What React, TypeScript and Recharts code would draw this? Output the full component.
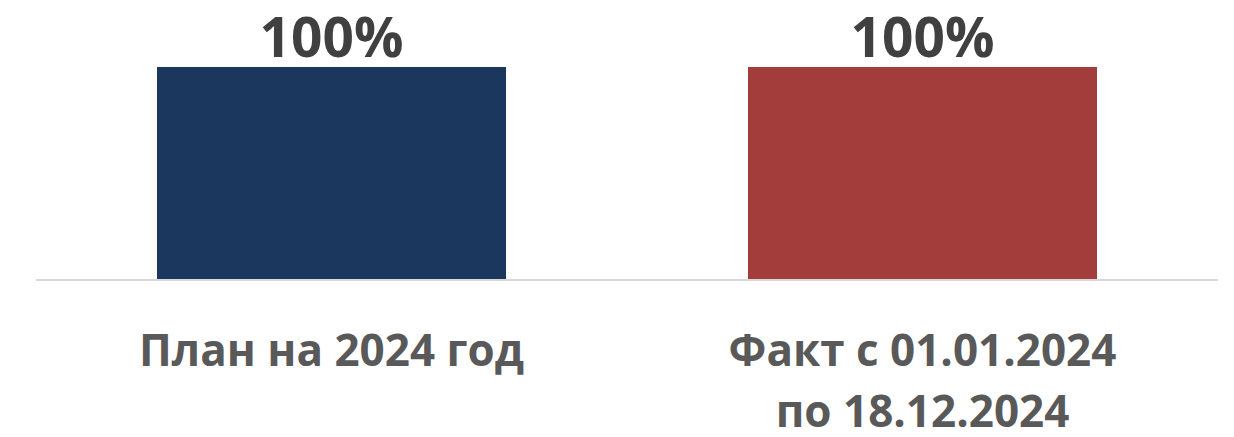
import { BarChart, Bar, XAxis, YAxis, Cell, LabelList } from 'recharts';

const categories = ['План на 2024 год', 'Факт с 01.01.2024\nпо 18.12.2024'];
const values = [100, 100];
const COLORS = ['#1b375d', '#a33d3b'];

const data = categories.map((name, i) => ({ name, value: values[i] }));

const FONT = '"Open Sans", "Noto Sans", sans-serif';

function CategoryTick({ x, y, payload }: any) {
  const lines = String(payload.value).split('\n');
  return (
    <text
      x={x}
      y={y}
      textAnchor="middle"
      fill="#595959"
      fontFamily={FONT}
      fontWeight={700}
      fontSize={44}
    >
      {lines.map((line, i) => (
        <tspan key={i} x={x} dy={i === 0 ? 86 : 61}>
          {line}
        </tspan>
      ))}
    </text>
  );
}

export default function App() {
  return (
    <div style={{ position: 'absolute', left: 0, top: 0, background: '#fff' }}>
      <BarChart
        width={1234}
        height={437}
        data={data}
        margin={{ top: 67, right: 16, bottom: 0, left: 36 }}
      >
        <XAxis
          dataKey="name"
          height={157}
          tickLine={false}
          tickSize={0}
          tickMargin={0}
          axisLine={{ stroke: '#d9d9d9', strokeWidth: 2 }}
          tick={<CategoryTick />}
          interval={0}
        />
        <YAxis hide domain={[0, 100]} />
        <Bar dataKey="value" barSize={349} isAnimationActive={false}>
          {data.map((entry, index) => (
            <Cell key={`cell-${index}`} fill={COLORS[index % COLORS.length]} />
          ))}
          <LabelList
            dataKey="value"
            position="top"
            offset={10}
            formatter={(v: any) => `${v}%`}
            fill="#404040"
            fontFamily={FONT}
            fontWeight={700}
            fontSize={55}
          />
        </Bar>
      </BarChart>
    </div>
  );
}
